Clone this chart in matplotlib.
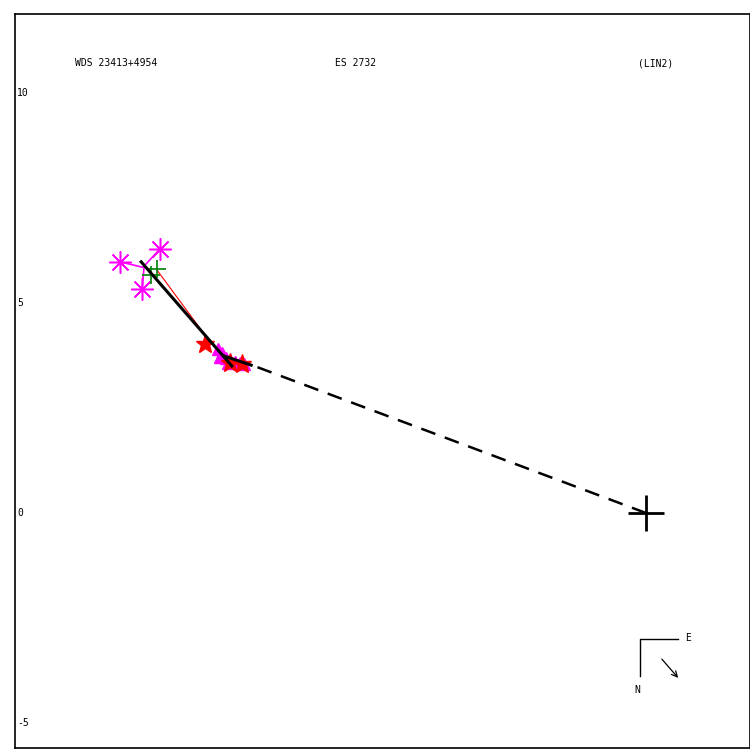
import matplotlib
matplotlib.use("Agg")
import matplotlib.pyplot as plt

# ---- data (arcsec-like units, derived from the reference) ----
title_left = "WDS 23413+4954"
title_mid = "ES 2732"
title_right = "(LIN2)"
ytick_vals = [10, 5, 0, -5]

# magenta asterisk observations and their predicted positions
ast_x = [-12.52, -12.00, -11.57]
ast_y = [5.98, 5.33, 6.29]
ast_px = [-11.98, -11.95, -11.93]
ast_py = [5.85, 5.86, 5.90]

# green plus observations
grn_x = [-11.78, -11.64]
grn_y = [5.67, 5.80]

# red line (from green obs to star)
red_line_x = [-11.64, -10.40]
red_line_y = [5.78, 4.10]

# red stars
star_x = [-10.51, -9.90, -9.62]
star_y = [4.02, 3.57, 3.55]

# magenta filled cluster
tri_x = [-10.20, -10.10, -10.00, -9.90, -9.78, -9.66, -9.58, -10.15, -9.95]
tri_y = [3.90, 3.80, 3.70, 3.64, 3.60, 3.58, 3.55, 3.72, 3.58]

# linear fit (solid black)
fit_x = [-12.02, -9.86]
fit_y = [5.98, 3.50]
seg_x = [-10.05, -9.40]
seg_y = [3.74, 3.52]

# dashed line from primary
dash_x = [0.0, -9.38]
dash_y = [0.0, 3.52]

fig = plt.figure(figsize=(7.5, 7.5), dpi=100)
ax = fig.add_axes([15/750, 2/750, 735/750, 734/750])
ax.set_xlim((15-646)/42, (750-646)/42)
ax.set_ylim((513-748)/42, (513-14)/42)
ax.set_xticks([]); ax.set_yticks([])
for s in ax.spines.values():
    s.set_linewidth(1.2)
    s.set_color("black")

mono = "DejaVu Sans Mono"
ax.text(0.082, 0.933, title_left, transform=ax.transAxes, fontsize=7, family=mono, va="center")
ax.text(0.435, 0.933, title_mid, transform=ax.transAxes, fontsize=7, family=mono, va="center")
ax.text(0.848, 0.933, title_right, transform=ax.transAxes, fontsize=7, family=mono, va="center")
xl = ax.get_xlim()[0]
for v in ytick_vals:
    ax.text(xl + 0.05, v, str(v), fontsize=7, family=mono, va="center", ha="left")

# dashed line
ax.plot(dash_x, dash_y, color="black", lw=1.8, ls=(0, (6, 4)), zorder=2)
ax.plot(seg_x, seg_y, color="black", lw=2.2, zorder=5)

# residual lines for asterisks
for x0, y0, x1, y1 in zip(ast_x, ast_y, ast_px, ast_py):
    ax.plot([x0, x1], [y0, y1], color="magenta", lw=1.2, zorder=3)
ax.plot(ast_x, ast_y, ls="none", marker=(8, 2, 0), ms=16, mew=1.1, color="magenta", zorder=4)

ax.plot(red_line_x, red_line_y, color="red", lw=0.8, zorder=3)
ax.plot(grn_x, grn_y, ls="none", marker="+", ms=13, mew=1.2, color="green", zorder=4)

ax.plot(tri_x, tri_y, ls="none", marker="^", ms=9, color="magenta", zorder=4)
ax.plot(star_x, star_y, ls="none", marker="*", ms=14, color="red", zorder=4)

ax.plot(fit_x, fit_y, color="black", lw=2.2, zorder=5)

# primary
ax.plot([0], [0], marker="+", ms=26, mew=2, color="black", zorder=6)

# compass (axes coords)
def px2ax(px, py):
    return ((px-15)/735, (748-py)/734)
p0 = px2ax(640, 639); p1 = px2ax(640, 676); p2 = px2ax(678, 639)
ax.plot([p1[0], p0[0], p2[0]], [p1[1], p0[1], p2[1]], transform=ax.transAxes, color="black", lw=1)
ax.text(*px2ax(688, 638), "E", transform=ax.transAxes, fontsize=7, family=mono, va="center", ha="center")
ax.text(*px2ax(637, 690), "N", transform=ax.transAxes, fontsize=7, family=mono, va="center", ha="center")
a0 = px2ax(660, 657); a1 = px2ax(680, 680)
ax.annotate("", xy=a1, xytext=a0, xycoords="axes fraction", textcoords="axes fraction",
            arrowprops=dict(arrowstyle="->", color="black", lw=0.9))

fig.savefig("out.png", dpi=100)
